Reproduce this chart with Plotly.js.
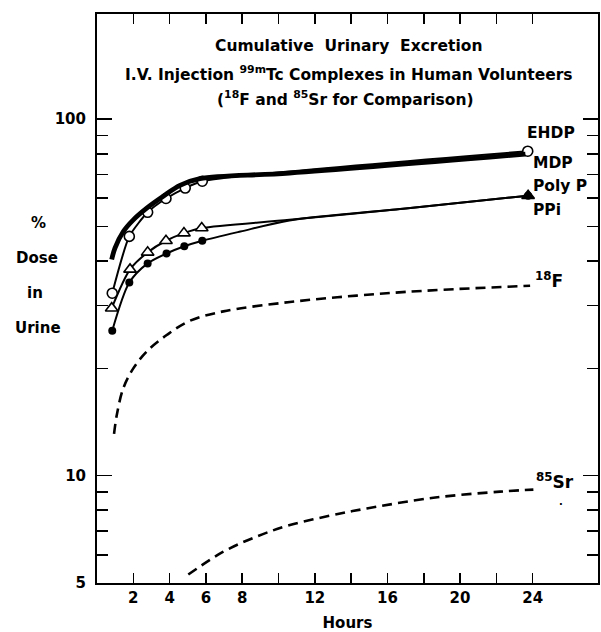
<!DOCTYPE html>
<html>
<head>
<meta charset="utf-8">
<script src="https://cdn.plot.ly/plotly-3.0.1.min.js"></script>
<style>
  html, body { margin: 0; padding: 0; background: #fff; }
  #chart { width: 601px; height: 632px; }
</style>
</head>
<body>
<div id="chart"></div>
<script>
// ---- Data (hours, % dose in urine) ----
const ehdpHours   = [0.84, 1.78, 2.79, 3.80, 4.86, 5.80, 23.73];
const ehdpValues  = [32.5, 46.9, 54.8, 59.9, 64.1, 67.0, 81.3];

const mdpHours    = [0.81, 0.99, 1.45, 2.0, 2.74, 3.65, 4.57, 5.67, 10.6, 23.6];
const mdpValues   = [40.4, 43.5, 48.4, 52.2, 56.3, 60.8, 65.2, 68.1, 70.6, 79.8];

const polyPHours  = [0.81, 1.82, 2.79, 3.80, 4.79, 5.77, 23.75];
const polyPValues = [29.5, 37.9, 42.3, 45.6, 47.9, 49.5, 61.0];
const polyPTailHours  = [10.6, 17.0];
const polyPTailValues = [52.2, 56.2];

const ppiHours    = [0.84, 1.78, 2.79, 3.83, 4.81, 5.80, 23.75];
const ppiValues   = [25.5, 34.8, 39.4, 42.0, 44.0, 45.6, 61.0];
const ppiTailHours  = [7.9, 10.6, 17.0];
const ppiTailValues = [48.4, 52.0, 56.2];

const f18Hours    = [0.94, 1.09, 1.45, 2.0, 2.74, 3.84, 5.12, 6.96, 10.63, 14.3, 17.98, 23.86];
const f18Values   = [13.1, 14.8, 17.6, 20.0, 22.3, 24.8, 27.2, 28.9, 30.7, 32.0, 33.0, 34.1];

const sr85Hours   = [5.03, 6.96, 8.8, 10.63, 13.4, 14.86, 18.53, 22.2, 24.04];
const sr85Values  = [5.28, 6.12, 6.75, 7.27, 7.83, 8.09, 8.67, 9.02, 9.14];

const xLabelVals  = [2, 4, 6, 8, 12, 16, 20, 24];
const xLabelText  = ['2', '4', '6', '8', '12', '16', '20', '24'];
const xMinorVals  = [10, 14, 18, 22];
const yMajorVals  = [5, 10, 100];
const yMajorText  = ['5', '10', '100'];
const yMinorVals  = [6, 7, 8, 9, 20, 30, 40, 50, 60, 70, 80, 90];

// ---- helpers ----
function mergeSorted(h1, v1, h2, v2) {
  const pts = h1.map((h, i) => [h, v1[i]]).concat(h2.map((h, i) => [h, v2[i]]));
  pts.sort((a, b) => a[0] - b[0]);
  return { x: pts.map(p => p[0]), y: pts.map(p => p[1]) };
}
const FONT = 'DejaVu Sans, sans-serif';
const X0 = 97, X1 = 598, Y0 = 14, Y1 = 583;
const W = 601, H = 632;
const px = p => (p - X0) / (X1 - X0);
const py = p => (Y1 - p) / (Y1 - Y0);

const polyPLine = mergeSorted(polyPHours, polyPValues, polyPTailHours, polyPTailValues);
const ppiLine = mergeSorted(ppiHours, ppiValues, ppiTailHours, ppiTailValues);

const traces = [
  { x: f18Hours, y: f18Values, mode: 'lines', line: { color: '#000', width: 2.6, dash: '10px,6px', shape: 'spline', smoothing: 1 }, hoverinfo: 'skip', showlegend: false },
  { x: sr85Hours, y: sr85Values, mode: 'lines', line: { color: '#000', width: 2.6, dash: '10px,6px', shape: 'spline', smoothing: 1 }, hoverinfo: 'skip', showlegend: false },
  { x: ppiLine.x, y: ppiLine.y, mode: 'lines', line: { color: '#000', width: 2, shape: 'spline', smoothing: 0.8 }, hoverinfo: 'skip', showlegend: false },
  { x: ppiHours, y: ppiValues, mode: 'markers', marker: { symbol: 'circle', size: 8, color: '#000' }, showlegend: false },
  { x: polyPLine.x, y: polyPLine.y, mode: 'lines', line: { color: '#000', width: 2, shape: 'spline', smoothing: 0.8 }, hoverinfo: 'skip', showlegend: false },
  { x: polyPHours, y: polyPValues, mode: 'markers',
    marker: { symbol: 'triangle-up', size: 11, color: polyPHours.map((h, i) => i === polyPHours.length - 1 ? '#000' : '#fff'), line: { color: '#000', width: 1.6 } }, showlegend: false },
  { x: ehdpHours, y: ehdpValues, mode: 'lines+markers', line: { color: '#000', width: 2, shape: 'spline', smoothing: 0.6 },
    marker: { symbol: 'circle', size: 10, color: '#fff', line: { color: '#000', width: 1.6 } }, showlegend: false },
  { x: mdpHours, y: mdpValues, mode: 'lines', line: { color: '#000', width: 4.8, shape: 'spline', smoothing: 1 }, hoverinfo: 'skip', showlegend: false }
];

function ann(text, xPix, yPix, size, xanchor, yanchor) {
  return { text: text, xref: 'paper', yref: 'paper', x: px(xPix), y: py(yPix),
    xanchor: xanchor || 'center', yanchor: yanchor || 'middle', showarrow: false,
    font: { family: FONT, size: size, color: '#000', weight: 'bold' } };
}

const annotations = [
  ann('Cumulative  Urinary  Excretion', 348, 46, 15.5),
  ann('I.V. Injection <sup>99m</sup>Tc Complexes in Human Volunteers', 349, 73, 15.5),
  ann('(<sup>18</sup>F and <sup>85</sup>Sr for Comparison)', 345, 98, 15.5),
  ann('%', 38, 223, 15),
  ann('Dose', 37, 258, 15),
  ann('in', 35, 293, 15),
  ann('Urine', 38, 328, 15),
  ann('EHDP', 525, 133, 15.5, 'left'),
  ann('MDP', 531, 163, 15.5, 'left'),
  ann('Poly P', 531, 186, 15.5, 'left'),
  ann('PPi', 531, 210, 15.5, 'left'),
  ann('<sup>18</sup>F', 533, 280, 17, 'left'),
  ann('<sup>85</sup>Sr', 534, 481, 17, 'left'),
  ann('.', 561, 494, 10, 'center', 'top')
];

const layout = {
  width: W, height: H,
  margin: { l: X0, r: W - X1, t: Y0, b: H - Y1, pad: 0 },
  paper_bgcolor: '#fff', plot_bgcolor: '#fff',
  showlegend: false,
  font: { family: FONT, color: '#000', size: 15, weight: 'bold' },
  xaxis: {
    range: [0, 27.6], showgrid: false, zeroline: false,
    showline: true, linecolor: '#000', linewidth: 2, mirror: 'ticks',
    ticks: 'inside', ticklen: 10, tickwidth: 1.6, tickcolor: '#000',
    tickmode: 'array', tickvals: xLabelVals, ticktext: xLabelText,
    tickfont: { family: FONT, size: 15, color: '#000', weight: 'bold' },
    minor: { tickmode: 'array', tickvals: xMinorVals, ticks: 'inside', ticklen: 10, tickwidth: 1.6, tickcolor: '#000', showgrid: false },
    title: { text: 'Hours', font: { family: FONT, size: 15, color: '#000', weight: 'bold' }, standoff: 14 }
  },
  yaxis: {
    type: 'log', range: [Math.log10(5), 2.295], showgrid: false, zeroline: false,
    showline: true, linecolor: '#000', linewidth: 2, mirror: 'ticks',
    ticks: 'inside', ticklen: 15, tickwidth: 1.6, tickcolor: '#000',
    tickmode: 'array', tickvals: yMajorVals, ticktext: yMajorText,
    ticklabelstandoff: 6,
    tickfont: { family: FONT, size: 15, color: '#000', weight: 'bold' },
    minor: { tickmode: 'array', tickvals: yMinorVals, ticks: 'inside', ticklen: 11, tickwidth: 1.6, tickcolor: '#000', showgrid: false }
  },
  annotations: annotations
};

Plotly.newPlot('chart', traces, layout, { displayModeBar: false, staticPlot: true });
</script>
</body>
</html>
